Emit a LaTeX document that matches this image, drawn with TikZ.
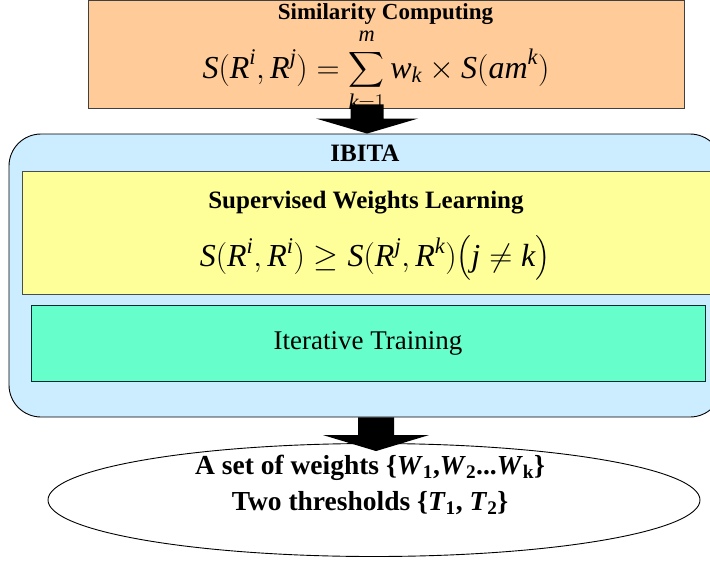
\RequirePackage{fix-cm}
\documentclass[tikz,border=0pt]{standalone}
\usepackage{amsmath}
\usepackage{fontspec}
\setmainfont{Liberation Serif}
\usetikzlibrary{shapes.geometric,calc}

\definecolor{simfill}{HTML}{FFCC99}
\definecolor{ibitafill}{HTML}{CCECFF}
\definecolor{learnfill}{HTML}{FFFF99}
\definecolor{trainfill}{HTML}{66FFCC}

% italic Times-like variable inside formulas
\newcommand\iv[1]{\textit{#1}}
% thick block arrow from a start coordinate down to a tip coordinate
\newcommand\blockarrow[5]{%
  \fill[black] let \p1=(#1), \p2=(#2) in
    (\x1-#3,\y1) -- (\x1+#3,\y1) -- (\x1+#3,\y2+#5) -- (\x1+#4,\y2+#5)
    -- (\x2,\y2) -- (\x1-#4,\y2+#5) -- (\x1-#3,\y2+#5) -- cycle;}

\tikzset{
  panel/.style={draw=#1, line width=0.9pt, inner sep=0pt},
  fsize/.style={font=\fontsize{#1}{#1}\selectfont},
  bsize/.style={font=\bfseries\fontsize{#1}{#1}\selectfont},
}

\begin{document}
\begin{tikzpicture}[x=1pt,y=-1pt]
\useasboundingbox (0,0) rectangle (710,560);
\begin{scope}
\clip (0,0) rectangle (710,560);

% similarity computing stage
\node[panel=black!75, fill=simfill, minimum width=596pt, minimum height=107.5pt]
  (sim) at (386,54.25) {};
\node[bsize=23] (simtitle) at (385.5,14) {Similarity Computing};
\node[fsize=32, anchor=base, inner sep=0pt] (simeq) at (376,78)
  {$\displaystyle \iv{S}(\iv{R}^{\iv{i}},\iv{R}^{\iv{j}})=\sum\limits^{\iv{m}\rule[-6pt]{0pt}{7pt}}_{\rule{0pt}{15pt}\iv{k}=1}\iv{w}_{\iv{k}}\times\iv{S}(\iv{am}^{\iv{k}})$};

% IBITA container
\node[panel=black, fill=ibitafill, rounded corners=32pt, minimum width=713pt, minimum height=283pt]
  (ibita) at (365.5,275.5) {};
\node[bsize=25] (ibitatitle) at (365,153) {IBITA};

\node[panel=black!70, fill=learnfill, minimum width=700pt, minimum height=123pt]
  (learn) at (372,232.5) {};
\node[bsize=25] (learntitle) at (366,203) {Supervised Weights Learning};
\node[fsize=32, inner sep=0pt] (learneq) at (375,258)
  {$\iv{S}(\iv{R}^{\iv{i}},\iv{R}^{\iv{i}})\geq\iv{S}(\iv{R}^{\iv{j}},\iv{R}^{\iv{k}})\bigl(\iv{j}\neq\iv{k}\bigr)$};

\node[panel=black!65!teal, fill=trainfill, minimum width=674pt, minimum height=76pt]
  (train) at (368,343) {};
\node[fsize=27] (traintitle) at (368,343) {Iterative Training};

% result
\node[ellipse, draw=black, line width=0.9pt, inner sep=0pt, minimum width=652pt, minimum height=113pt]
  (res) at (374,500) {};
\node[font=\bfseries\fontsize{27.5}{36}\selectfont, align=center] (restext) at (370,485)
  {A set of weights \{\textit{W}\textsubscript{1},\textit{W}\textsubscript{2}...\textit{W}\textsubscript{k}\}\\
   Two thresholds \{\textit{T}\textsubscript{1}, \textit{T}\textsubscript{2}\}};

% connectors
\coordinate (a1s) at ([xshift=-19pt,yshift=4pt]sim.south);
\coordinate (a1t) at (a1s |- ibita.north);
\blockarrow{a1s}{a1t}{16.5pt}{51pt}{15pt}
\coordinate (a2s) at ([xshift=10.5pt]ibita.south);
\coordinate (a2t) at ([yshift=-8pt]a2s |- res.north);
\blockarrow{a2s}{a2t}{18pt}{53pt}{16pt}
\end{scope}
\end{tikzpicture}
\end{document}
